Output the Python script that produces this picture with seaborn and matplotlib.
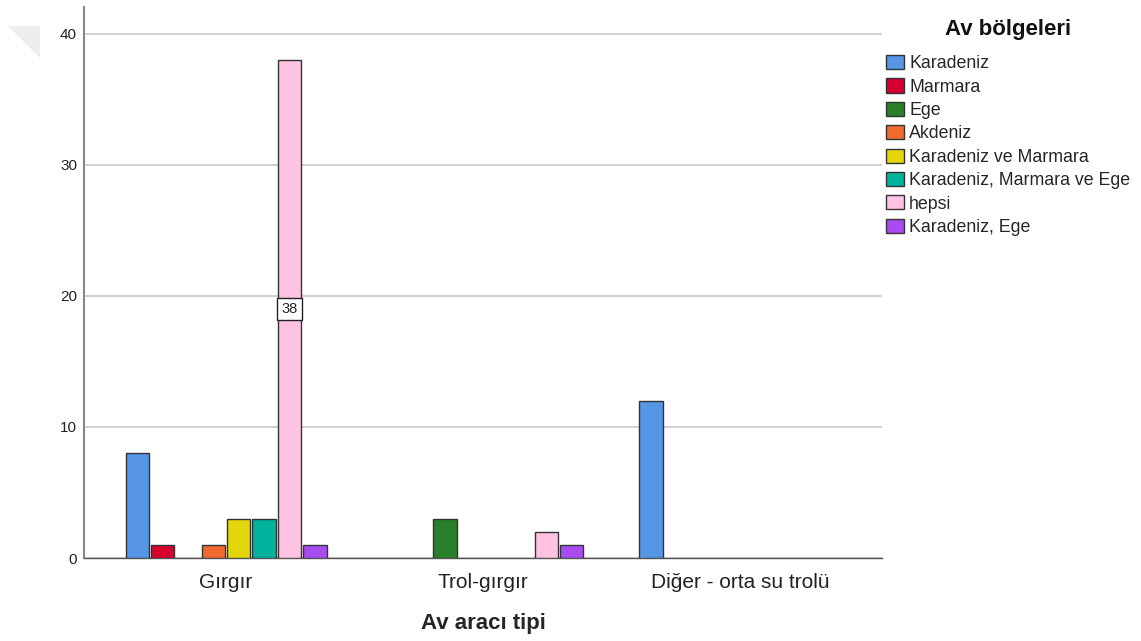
import numpy as np
import pandas as pd
import matplotlib.pyplot as plt
import seaborn as sns
from matplotlib.patches import Polygon

# ==============================================================
# DATA
# ==============================================================

gear_types = ["Gırgır", "Trol-gırgır", "Diğer - orta su trolü"]
regions = ["Karadeniz", "Marmara", "Ege", "Akdeniz", "Karadeniz ve Marmara",
           "Karadeniz, Marmara ve Ege", "hepsi", "Karadeniz, Ege"]

# counts per region for each gear type (0 = no bar)
girgir_counts = [8, 1, 0, 1, 3, 3, 38, 1]
trol_girgir_counts = [0, 0, 3, 0, 0, 0, 2, 1]
diger_counts = [12, 0, 0, 0, 0, 0, 0, 0]

region_colors = ["#5596e6", "#d5002e", "#2a7f2a", "#f26a2f",
                 "#e3d60a", "#00b39c", "#ffc3e1", "#a84cf2"]

y_ticks = [0, 10, 20, 30, 40]
labelled_value = 38

rows = []
for gear, counts in zip(gear_types, [girgir_counts, trol_girgir_counts, diger_counts]):
    for region, n in zip(regions, counts):
        if n > 0:
            rows.append({"gear": gear, "region": region, "count": n})
df = pd.DataFrame(rows)

# ==============================================================
# PLOT
# ==============================================================

sns.set_style("white")
plt.rcParams["font.family"] = ["Liberation Sans", "DejaVu Sans"]

W, H = 1141, 641
fig = plt.figure(figsize=(W / 100, H / 100), dpi=100)
ax = fig.add_axes([84 / W, 1 - 558 / H, 798 / W, 551 / H])

# faint grey corner mark seen in the top-left of the original screenshot
fig.patches.append(Polygon([(8 / W, 1 - 26 / H), (40 / W, 1 - 26 / H), (40 / W, 1 - 58 / H)],
                           closed=True, transform=fig.transFigure,
                           facecolor="#eeeeee", edgecolor="none"))

sns.barplot(
    data=df, x="gear", y="count", hue="region",
    order=gear_types, hue_order=regions, palette=region_colors,
    width=0.79, gap=0.08, edgecolor="#333333", linewidth=1.0, saturation=1,
    errorbar=None, ax=ax, zorder=3
)

ax.set_xlim(-0.553, 2.553)
ax.set_ylim(0, 42.05)
ax.set_yticks(y_ticks)
ax.yaxis.grid(True, color="#c8c8c8", linewidth=1.2, zorder=0)
ax.set_axisbelow(True)

for side in ["top", "right"]:
    ax.spines[side].set_visible(False)
ax.spines["left"].set_color("#888888")
ax.spines["left"].set_linewidth(1.5)
ax.spines["bottom"].set_color("#555555")
ax.spines["bottom"].set_linewidth(1.0)

ax.tick_params(axis="y", length=0, labelsize=11, pad=5, labelcolor="#222222")
ax.tick_params(axis="x", length=0, labelsize=15, pad=11, labelcolor="#222222")

ax.set_ylabel("")
ax.set_xlabel("Av aracı tipi", fontsize=16, fontweight="bold", labelpad=15)

# data label on the tallest bar
for container in ax.containers:
    for bar in container:
        h = bar.get_height()
        if h == labelled_value:
            ax.text(bar.get_x() + bar.get_width() / 2, h / 2, f"{int(h)}",
                    ha="center", va="center", fontsize=10.5, zorder=5,
                    bbox=dict(boxstyle="square,pad=0.3", facecolor="white",
                              edgecolor="#222222", linewidth=1.0))

# legend: title drawn separately so its gap to the entries matches
leg = ax.legend(loc="upper left",
                bbox_to_anchor=(886 / W, 1 - 55 / H), bbox_transform=fig.transFigure,
                frameon=False, fontsize=12.8,
                handlelength=1.0, handleheight=0.85, handletextpad=0.3,
                labelspacing=0.345, borderpad=0, borderaxespad=0)
fig.text(1008 / W, 1 - 30 / H, "Av bölgeleri", ha="center", va="center",
         fontsize=16, fontweight="bold", color="#111111")

fig.savefig("out.png", dpi=100)
